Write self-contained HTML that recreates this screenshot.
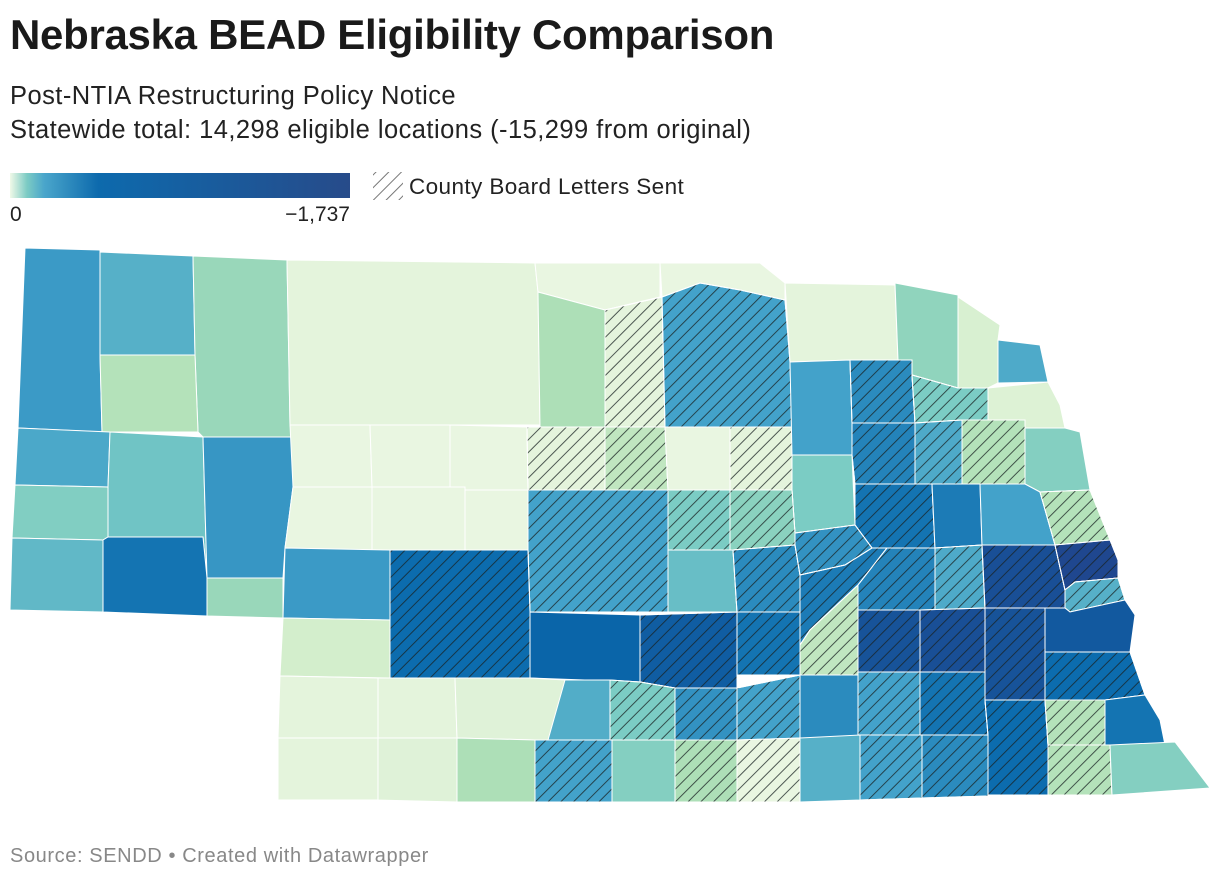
<!DOCTYPE html>
<html><head><meta charset="utf-8">
<style>
body{margin:0;background:#fff;width:1220px;height:880px;overflow:hidden;font-family:"Liberation Sans",sans-serif;color:#1a1a1a}
#title{position:absolute;left:10px;top:11px;font-size:42px;font-weight:bold;letter-spacing:-0.3px}
.sub{position:absolute;left:10px;font-size:25.5px;color:#222;letter-spacing:0.45px}
#foot{position:absolute;left:10px;top:845px;font-size:20px;color:#888;letter-spacing:0.6px}
svg{position:absolute;left:0;top:0}
</style></head><body>
<div id="title">Nebraska BEAD Eligibility Comparison</div>
<div class="sub" style="top:82px">Post-NTIA Restructuring Policy Notice</div>
<div class="sub" style="top:116px">Statewide total: 14,298 eligible locations (-15,299 from original)</div>
<div id="foot">Source: SENDD • Created with Datawrapper</div>
<svg id="map" width="1220" height="880">
<defs>
<linearGradient id="lg" x1="0" x2="1" y1="0" y2="0">
<stop offset="0" stop-color="#f0f9e8"/><stop offset="0.05" stop-color="#7ccbc4"/><stop offset="0.1" stop-color="#4aa6cb"/><stop offset="0.26" stop-color="#0d6aad"/><stop offset="1" stop-color="#274b8a"/>
</linearGradient>
<pattern id="hatch" width="9" height="9" patternUnits="userSpaceOnUse" patternTransform="rotate(45)">
<line x1="0" y1="0" x2="0" y2="9" stroke="rgba(25,35,35,0.75)" stroke-width="2"/>
</pattern>
<pattern id="hatchL" width="9" height="9" patternUnits="userSpaceOnUse" patternTransform="rotate(45)">
<line x1="0" y1="0" x2="0" y2="9" stroke="#777" stroke-width="2"/>
</pattern>
</defs>
<rect x="10" y="173" width="340" height="25" fill="url(#lg)"/>
<text x="10" y="221" font-size="21" fill="#222">0</text>
<text x="350" y="221" font-size="21" fill="#222" text-anchor="end">−1,737</text>
<rect x="373" y="172" width="30" height="28" fill="url(#hatchL)"/>
<text x="409" y="194" font-size="22.5" fill="#222" letter-spacing="0.4">County Board Letters Sent</text>
<g id="counties"></g>
</svg>
<script>
const counties=["Sioux","Dawes","Sheridan","BoxButte","ScottsBluff","Morrill","Garden","Banner","Kimball","Cheyenne","Deuel","Cherry","KeyaPaha","Boyd","Brown","Rock","Holt","Knox","Cedar","Dixon","Dakota","Thurston","Grant","Hooker","Thomas","Blaine","Loup","Garfield","Wheeler","Antelope","Pierce","Wayne","Madison","Stanton","Cuming","Burt","Boone","Arthur","McPherson","Logan","Custer","Valley","Greeley","Sherman","Howard","Platte","Colfax","Dodge","Washington","Nance","Keith","Lincoln","Merrick","Hall","Polk","Butler","Saunders","Douglas","Sarpy","Perkins","Dawson","Buffalo","HallB","Hamilton","York","Seward","Lancaster","Otoe","Chase","Hayes","Frontier","Gosper","Phelps","Kearney","Adams","Clay","Fillmore","Saline2","Gage","Johnson","Nemaha","Dundy","Hitchcock","RedWillow","Furnas","Harlan","Franklin","Webster","Nuckolls","Thayer","Jefferson","Pawnee","Richardson"];
const values=[-1077,-955,-608,-434,-1007,-834,-1094,-747,-903,-1251,-608,-87,-52,-52,-486,-87,-1042,-87,-660,-174,-990,-139,-52,-52,-52,-87,-347,-52,-87,-1042,-1146,-782,-1181,-990,-434,-730,-782,-52,-52,-52,-1042,-782,-695,-868,-1146,-1251,-1216,-1042,-434,-1112,-1077,-1285,-1216,-347,-1181,-990,-1563,-1650,-955,-208,-1337,-1424,-1251,-1529,-1563,-1529,-1459,-1285,-87,-87,-122,-973,-782,-1112,-1042,-1146,-1042,-1251,-1285,-434,-1251,-87,-122,-486,-1042,-730,-486,-52,-955,-1042,-1146,-434,-730];
const hatched=["Rock","Holt","Pierce","Wayne","Madison","Stanton","Cuming","Blaine","Loup","Wheeler","Custer","Valley","Greeley","Howard","Platte","Washington","Nance","Lincoln","Merrick","Hall","Polk","Butler","Saunders","Douglas","Sarpy","Buffalo","HallB","Hamilton","York","Seward","Otoe","Phelps","Kearney","Adams","Fillmore","Saline2","Gage","Johnson","Furnas","Franklin","Webster","Thayer","Jefferson","Pawnee"];
const maxAbs=1737;
const shapes={
Sioux:"25,248 100,250 100,355 102,432 18,428",
Dawes:"100,252 193,256 195,355 100,355",
Sheridan:"193,256 287,260 290,425 293,437 203,437 198,432 195,355",
BoxButte:"100,355 195,355 198,432 102,432",
ScottsBluff:"18,428 110,432 108,487 15,485",
Morrill:"110,432 203,437 207,578 203,537 108,537 108,487",
Garden:"203,437 293,437 293,487 285,548 283,578 207,578",
Banner:"15,485 108,487 108,537 103,540 12,538",
Kimball:"12,538 103,540 103,612 10,610",
Cheyenne:"103,540 108,537 203,537 207,578 207,616 103,612",
Deuel:"207,578 283,578 283,618 207,616",
Cherry:"287,260 535,263 538,292 540,425 290,425",
KeyaPaha:"535,263 660,263 660,297 605,310 538,292",
Boyd:"660,263 760,263 785,283 785,300 740,290 700,283 662,297",
Brown:"538,292 605,310 605,427 540,427",
Rock:"605,310 662,297 665,427 605,427",
Holt:"662,297 700,283 740,290 785,300 790,362 792,427 665,427",
Knox:"785,283 895,285 898,360 850,360 790,362",
Cedar:"895,283 958,295 958,388 912,375 912,360 898,360",
Dixon:"958,297 1000,325 998,340 998,383 988,388 958,388",
Dakota:"998,340 1040,345 1048,382 998,383",
Thurston:"988,388 1048,382 1060,405 1065,428 1025,428 1025,420 988,420",
Grant:"290,425 370,425 372,487 293,487",
Hooker:"370,425 450,425 450,487 372,487",
Thomas:"450,425 527,427 528,490 465,490 465,487 450,487",
Blaine:"527,427 605,427 605,490 528,490",
Loup:"605,427 665,427 668,490 605,490",
Garfield:"665,427 730,427 730,490 668,490",
Wheeler:"730,427 792,427 792,455 792,490 730,490",
Antelope:"790,362 850,360 852,423 852,455 792,455",
Pierce:"850,360 912,360 912,375 915,423 852,423",
Wayne:"912,375 958,388 988,388 988,420 962,420 915,423",
Madison:"852,423 915,423 915,484 855,484 852,455",
Stanton:"915,423 962,420 962,484 915,484",
Cuming:"962,420 1025,420 1025,484 962,484",
Burt:"1025,428 1065,428 1080,432 1090,490 1040,492 1025,484",
Boone:"792,455 852,455 855,525 795,533 792,490",
Arthur:"293,487 372,487 372,550 285,548",
McPherson:"372,487 465,487 465,550 372,550",
Logan:"465,487 465,490 528,490 528,550 465,550",
Custer:"528,490 668,490 668,612 530,612 528,550",
Valley:"668,490 730,490 730,550 668,550",
Greeley:"730,490 792,490 795,533 795,545 733,550 730,550",
Sherman:"668,550 733,550 737,612 668,612",
Howard:"733,550 795,545 800,575 800,612 737,612",
Platte:"855,484 932,484 935,548 887,548 872,548 855,525",
Colfax:"932,484 980,484 982,545 935,548",
Dodge:"980,484 1025,484 1040,492 1055,545 982,545",
Washington:"1040,492 1090,490 1110,540 1055,545",
Nance:"795,533 855,525 872,548 845,565 800,575 795,545",
Keith:"285,548 390,550 390,620 283,618",
Lincoln:"390,550 528,550 530,612 530,678 390,678",
Merrick:"800,575 845,565 872,548 887,548 858,585 810,630 800,645",
Hall:"800,645 810,630 858,585 858,675 800,675",
Polk:"887,548 935,548 935,610 858,610 858,585",
Butler:"935,548 982,545 985,608 935,610",
Saunders:"982,545 1055,545 1065,590 1065,608 985,608",
Douglas:"1055,545 1110,540 1118,560 1118,578 1075,582 1065,590",
Sarpy:"1065,590 1075,582 1118,578 1125,600 1070,612 1065,608",
Perkins:"283,618 390,620 390,678 280,676",
Dawson:"530,612 640,615 640,682 530,678",
Buffalo:"640,615 737,612 737,688 675,688 640,682",
HallB:"737,612 800,612 800,675 737,675",
Hamilton:"858,610 920,610 920,672 858,672",
York:"920,610 985,608 985,672 920,672",
Seward:"985,608 1045,608 1045,700 985,700 985,672",
Lancaster:"1045,608 1065,608 1070,612 1125,600 1135,615 1130,652 1045,652",
Otoe:"1045,652 1130,652 1145,695 1105,700 1045,700",
Chase:"280,676 378,678 378,738 278,738",
Hayes:"378,678 455,678 457,738 378,738",
Frontier:"455,678 530,678 565,680 565,740 548,740 535,740 457,738",
Gosper:"565,680 610,680 610,740 548,740",
Phelps:"610,680 640,682 675,688 675,740 610,740",
Kearney:"675,688 737,688 737,740 675,740",
Adams:"737,675 737,688 800,675 800,740 737,740",
Clay:"800,675 858,675 858,738 800,738",
Fillmore:"858,672 920,672 920,735 858,735",
Saline2:"920,672 985,672 985,700 988,735 920,735",
Gage:"985,700 1045,700 1048,745 1048,795 988,795 988,735",
Johnson:"1045,700 1105,700 1105,745 1048,745",
Nemaha:"1105,700 1145,695 1160,720 1165,745 1110,745 1105,745",
Dundy:"278,738 378,738 378,800 278,800",
Hitchcock:"378,738 457,738 457,802 378,800",
RedWillow:"457,738 535,740 535,802 457,802",
Furnas:"535,740 612,740 612,802 535,802",
Harlan:"612,740 675,740 675,802 612,802",
Franklin:"675,740 737,740 737,802 675,802",
Webster:"737,740 800,738 800,802 737,802",
Nuckolls:"800,738 860,735 860,800 800,802",
Thayer:"860,735 922,735 922,798 860,800",
Jefferson:"922,735 988,735 988,796 922,798",
Pawnee:"1048,745 1110,745 1112,795 1048,795",
Richardson:"1110,745 1175,742 1210,788 1112,795"
};
const stops=[[0,[240,249,232]],[0.15,[204,235,197]],[0.3,[168,221,181]],[0.45,[123,204,196]],[0.6,[67,162,202]],[0.75,[8,104,172]],[1,[37,63,136]]];
function colorScale(v){
  const t=Math.min(1,Math.abs(v)/maxAbs);
  for(let i=1;i<stops.length;i++){
    if(t<=stops[i][0]){
      const a=stops[i-1],b=stops[i],f=(t-a[0])/(b[0]-a[0]);
      const c=a[1].map((x,k)=>Math.round(x+(b[1][k]-x)*f));
      return "rgb("+c.join(",")+")";
    }
  }
  return "rgb(37,63,136)";
}
const g=document.getElementById("counties");
const NS="http://www.w3.org/2000/svg";
counties.forEach((name,i)=>{
  const p=document.createElementNS(NS,"polygon");
  p.setAttribute("points",shapes[name]);
  p.setAttribute("fill",colorScale(values[i]));
  p.setAttribute("stroke","#fff");
  p.setAttribute("stroke-width","1");
  
  
  g.appendChild(p);
  if(hatched.indexOf(name)>=0){
    const h=document.createElementNS(NS,"polygon");
    h.setAttribute("points",shapes[name]);
    h.setAttribute("fill","url(#hatch)");
    h.setAttribute("stroke","#fff");
    h.setAttribute("stroke-width","1");
    
    
    g.appendChild(h);
  }
});
</script>
</body></html>
